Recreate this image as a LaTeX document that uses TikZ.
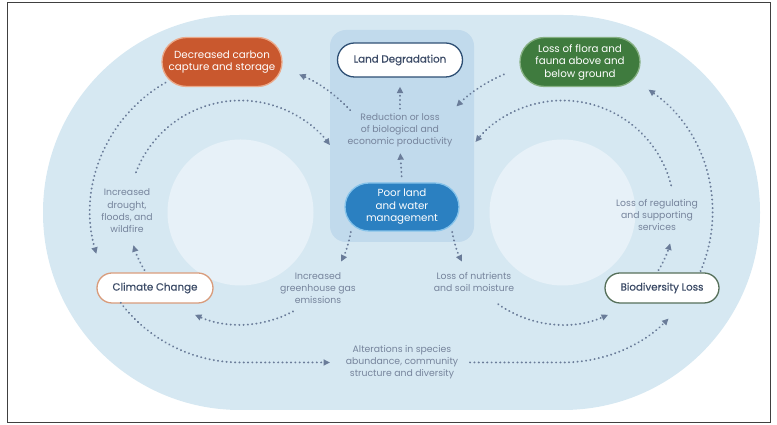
\documentclass[tikz,border=0pt]{standalone}
\usepackage{fontspec}
\setmainfont{Poppins}
\newfontfamily\medfont[FakeBold=0.5]{Poppins}
\usetikzlibrary{arrows.meta,shapes.misc,calc}
\definecolor{stadc}{HTML}{D6E8F2}
\definecolor{circc}{HTML}{E7F1F8}
\definecolor{boxc}{HTML}{C1DAEC}
\definecolor{orangec}{HTML}{C9582E}
\definecolor{oranged}{HTML}{EBA98A}
\definecolor{greenc}{HTML}{3F7B3E}
\definecolor{greend}{HTML}{86B083}
\definecolor{bluec}{HTML}{2B80C1}
\definecolor{blued}{HTML}{86C3EA}
\definecolor{navyc}{HTML}{2E4F74}
\definecolor{peachc}{HTML}{D99C7C}
\definecolor{dgreenc}{HTML}{56705A}
\definecolor{txtc}{HTML}{76849C}
\definecolor{darktxt}{HTML}{3B4A66}
\definecolor{arrc}{HTML}{6A7C99}
\tikzset{
  pill/.style={rounded rectangle, inner sep=0pt, align=center, line width=1.3pt},
  bigfont/.style={font=\fontsize{10.3}{12.5}\selectfont},
  darkfont/.style={font=\fontsize{10.3}{12.5}\medfont},
  lbl/.style={align=center, text=txtc, inner sep=1pt, font=\fontsize{9.3}{12.3}\selectfont},
  arr/.style={draw=arrc, line width=2pt, dash pattern=on 0.2pt off 4.1pt, line cap=round,
    -{Triangle[length=6.5pt,width=6pt]}}
}
\begin{document}
\begin{tikzpicture}[x=1pt,y=1pt]
\useasboundingbox (0,0) rectangle (777,425);
\draw[line width=1pt, draw=black!75] (7.5,2.5) rectangle (770,422.5);
% background shapes
\fill[stadc, rounded corners=197pt] (43,15) rectangle (760,410);
\coordinate (L) at (240.5,212.5);
\coordinate (R) at (562.5,212.5);
\fill[circc] (L) circle (73);
\fill[circc] (R) circle (73);
\fill[boxc, rounded corners=16pt] (330,183) rectangle (474,395);
% main nodes
\node[pill, bigfont, fill=orangec, draw=oranged, text=white, minimum width=120pt, minimum height=49pt] (carbon) at (222,363) {Decreased carbon\\capture and storage};
\node[pill, darkfont, fill=white, draw=navyc, text=darktxt, minimum width=125pt, minimum height=34pt] (landdeg) at (400,365) {Land Degradation};
\node[pill, bigfont, fill=greenc, draw=greend, text=white, minimum width=120pt, minimum height=49pt] (flora) at (580,363) {Loss of flora and\\fauna above and\\below ground};
\node[pill, bigfont, fill=bluec, draw=blued, text=white, minimum width=114pt, minimum height=48pt] (poor) at (402,218) {Poor land\\and water\\management};
\node[pill, darkfont, fill=white, draw=peachc, text=darktxt, minimum width=116pt, minimum height=30pt] (climate) at (155,137) {Climate Change};
\node[pill, darkfont, fill=white, draw=dgreenc, text=darktxt, minimum width=114pt, minimum height=30pt] (bio) at (662,137) {Biodiversity Loss};
% labels
\node[lbl] (reduction) at (400,295) {Reduction or loss\\of biological and\\economic productivity};
\node[lbl] (drought) at (127,214) {Increased\\drought,\\floods, and\\wildfire};
\node[lbl] (greenhouse) at (318,137) {Increased\\greenhouse gas\\emissions};
\node[lbl] (nutrients) at (474,143) {Loss of nutrients\\and soil moisture};
\node[lbl] (regulating) at (657,210) {Loss of regulating\\and supporting\\services};
\node[lbl] (alter) at (402,63) {Alterations in species\\abundance, community\\structure and diversity};
% straight arrows in the centre
\draw[arr, shorten <=3pt, shorten >=9pt] (reduction.north) -- (landdeg.south);
\draw[arr, shorten <=6pt, shorten >=5pt] (poor.north) -- (reduction.south);
% ring coordinates, left
\coordinate (l1s) at ($(L)+(43:150)$);
\coordinate (l2s) at ($(L)+(120:150)$);
\coordinate (l3s) at ($(L)+(-143:150)$);
\coordinate (l3e) at (330,62.5);
\coordinate (l4s) at ($(L)+(159:112)$);
\coordinate (l5s) at ($(L)+(211:112)$);
\coordinate (l6s) at ($(L)+(-10:112)$);
\coordinate (l7s) at ($(L)+(-62:112)$);
% ring coordinates, right
\coordinate (r1s) at ($(R)+(113:150)$);
\coordinate (r2s) at ($(R)+(-23:150)$);
\coordinate (r3s) at (470,62.5);
\coordinate (r4s) at ($(R)+(14:112)$);
\coordinate (r5s) at ($(R)+(-31:112)$);
\coordinate (r6s) at ($(R)+(190:112)$);
\coordinate (r7s) at ($(R)+(-125:112)$);
% left outer ring
\draw[arr] (l1s) arc[start angle=43, end angle=67, radius=150];
\draw[arr] (l2s) arc[start angle=120, end angle=196, radius=150];
\draw[arr] (l3s) arc[start angle=-143, end angle=-90, radius=150] -- (l3e);
% left inner ring
\draw[arr] (l4s) arc[start angle=159, end angle=37, radius=112];
\draw[arr] (l5s) arc[start angle=211, end angle=197, radius=112];
\draw[arr] (l6s) arc[start angle=-10, end angle=-26, radius=112];
\draw[arr] (l7s) arc[start angle=-62, end angle=-114, radius=112];
% right outer ring
\draw[arr] (r1s) arc[start angle=113, end angle=135, radius=150];
\draw[arr] (r2s) arc[start angle=-23, end angle=55, radius=150];
\draw[arr] (r3s) -- ($(R)+(0,-150)$) arc[start angle=-90, end angle=-45, radius=150];
% right inner ring
\draw[arr] (r4s) arc[start angle=14, end angle=141, radius=112];
\draw[arr] (r5s) arc[start angle=-31, end angle=-16, radius=112];
\draw[arr] (r6s) arc[start angle=190, end angle=206, radius=112];
\draw[arr] (r7s) arc[start angle=-125, end angle=-66, radius=112];
\end{tikzpicture}
\end{document}
